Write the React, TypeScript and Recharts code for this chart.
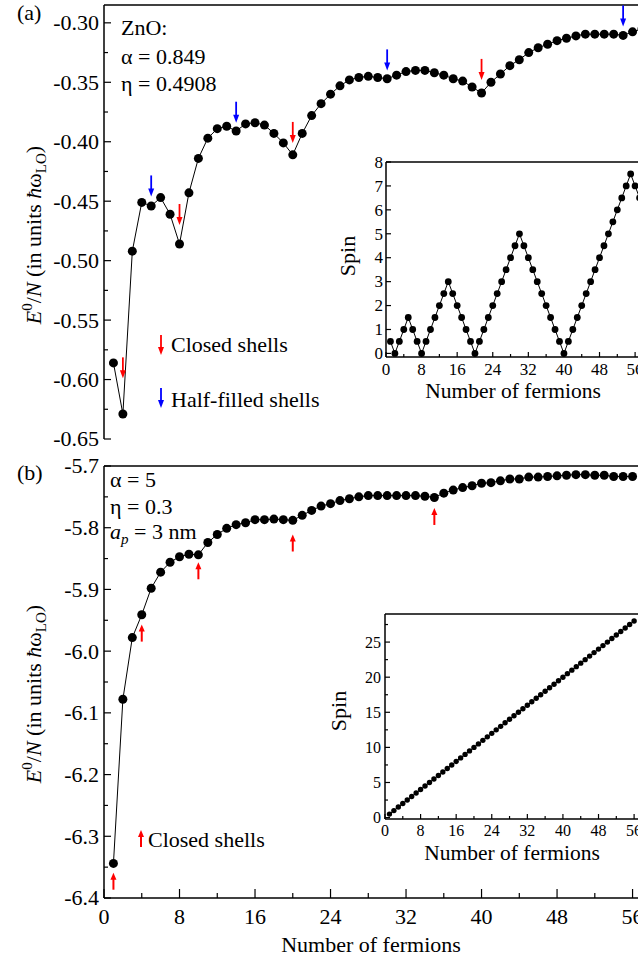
import React from 'react';
import { ComposedChart, Line, Scatter, XAxis, YAxis, ReferenceLine } from 'recharts';

const SERIF = '"Liberation Serif", "Times New Roman", "DejaVu Serif", serif';

// number of fermions N
const fermions = [
  1, 2, 3, 4, 5, 6, 7, 8, 9, 10, 11, 12, 13, 14, 15, 16, 17, 18, 19, 20,
  21, 22, 23, 24, 25, 26, 27, 28, 29, 30, 31, 32, 33, 34, 35, 36, 37, 38, 39, 40,
  41, 42, 43, 44, 45, 46, 47, 48, 49, 50, 51, 52, 53, 54, 55, 56, 57,
];

// (a) ZnO, E0/N
const energyZnO = [
  -0.586, -0.629, -0.492, -0.451, -0.454, -0.447, -0.461, -0.486, -0.443, -0.414,
  -0.397, -0.389, -0.387, -0.391, -0.385, -0.384, -0.386, -0.393, -0.401, -0.411,
  -0.393, -0.378, -0.368, -0.36, -0.353, -0.348, -0.346, -0.345, -0.346, -0.347,
  -0.344, -0.341, -0.34, -0.34, -0.342, -0.344, -0.347, -0.349, -0.354, -0.359,
  -0.35, -0.343, -0.336, -0.331, -0.325, -0.321, -0.318, -0.315, -0.313, -0.311,
  -0.3095, -0.3095, -0.3095, -0.3095, -0.3106, -0.3076, -0.305,
];

// (b) alpha = 5, E0/N
const energyStrong = [
  -6.344, -6.078, -5.978, -5.941, -5.898, -5.872, -5.856, -5.847, -5.843, -5.844,
  -5.824, -5.811, -5.801, -5.795, -5.792, -5.787, -5.787, -5.786, -5.787, -5.788,
  -5.78, -5.772, -5.765, -5.761, -5.756, -5.753, -5.75, -5.748, -5.748, -5.748,
  -5.748, -5.748, -5.748, -5.749, -5.751, -5.744, -5.739, -5.735, -5.732, -5.728,
  -5.727, -5.724, -5.721, -5.721, -5.718, -5.718, -5.717, -5.716, -5.715, -5.714,
  -5.714, -5.715, -5.715, -5.717, -5.717, -5.717,
];

// inset spins
const spinZnO = [
  0.5, 0, 0.5, 1, 1.5, 1, 0.5, 0, 0.5, 1,
  1.5, 2, 2.5, 3, 2.5, 2, 1.5, 1, 0.5, 0,
  0.5, 1, 1.5, 2, 2.5, 3, 3.5, 4, 4.5, 5,
  4.5, 4, 3.5, 3, 2.5, 2, 1.5, 1, 0.5, 0,
  0.5, 1, 1.5, 2, 2.5, 3, 3.5, 4, 4.5, 5,
  5.5, 6, 6.5, 7, 7.5, 7, 6.5,
];
const spinStrong = [
  0.5, 1, 1.5, 2, 2.5, 3, 3.5, 4, 4.5, 5,
  5.5, 6, 6.5, 7, 7.5, 8, 8.5, 9, 9.5, 10,
  10.5, 11, 11.5, 12, 12.5, 13, 13.5, 14, 14.5, 15,
  15.5, 16, 16.5, 17, 17.5, 18, 18.5, 19, 19.5, 20,
  20.5, 21, 21.5, 22, 22.5, 23, 23.5, 24, 24.5, 25,
  25.5, 26, 26.5, 27, 27.5, 28,
];

// shell markers: N and the arrow tip (data units)
const closedShellsA = [2, 8, 20, 40];
const closedTipsA = [-0.599, -0.47, -0.401, -0.348];
const halfShellsA = [5, 14, 30, 55];
const halfTipsA = [-0.446, -0.384, -0.34, -0.303];
const closedShellsB = [1, 4, 10, 20, 35];
const closedTipsB = [-6.359, -5.957, -5.856, -5.811, -5.768];

// ticks
const xMajor = [0, 8, 16, 24, 32, 40, 48, 56];
const xMinor = [4, 12, 20, 28, 36, 44, 52];
const yMajorA = [-0.65, -0.6, -0.55, -0.5, -0.45, -0.4, -0.35, -0.3];
const yMinorA = [-0.625, -0.575, -0.525, -0.475, -0.425, -0.375, -0.325];
const yMajorB = [-6.4, -6.3, -6.2, -6.1, -6.0, -5.9, -5.8, -5.7];
const yMinorB = [-6.35, -6.25, -6.15, -6.05, -5.95, -5.85, -5.75];
const spinTicksA = [0, 1, 2, 3, 4, 5, 6, 7, 8];
const spinMajorB = [0, 5, 10, 15, 20, 25];
const spinMinorB = [2.5, 7.5, 12.5, 17.5, 22.5, 27.5];

const zip = (xs: number[], ys: number[]) => ys.map((v, i) => ({ n: xs[i], v }));
const seriesA = zip(fermions, energyZnO);
const seriesB = zip(fermions, energyStrong);
const spinA = zip(fermions, spinZnO);
const spinB = zip(fermions, spinStrong);
const closedA = zip(closedShellsA, closedTipsA);
const halfA = zip(halfShellsA, halfTipsA);
const closedB = zip(closedShellsB, closedTipsB);

const isIn = (arr: number[], v: number) => arr.some((a) => Math.abs(a - v) < 1e-9);

type TickOpts = {
  major: number[];
  len: number;
  minorLen: number;
  fontSize: number;
  gap: number;
  fmt?: (v: number) => string;
};

const leftTick = (o: TickOpts) => (props: any) => {
  const { x, y, payload } = props;
  const major = isIn(o.major, payload.value);
  return (
    <g>
      <line x1={x} y1={y} x2={x + (major ? o.len : o.minorLen)} y2={y} stroke="#000" strokeWidth={1.2} />
      {major && o.fmt && (
        <text x={x - o.gap} y={y + o.fontSize * 0.34} textAnchor="end" fontSize={o.fontSize} fontFamily={SERIF} fill="#000">
          {o.fmt(payload.value)}
        </text>
      )}
    </g>
  );
};

const bottomTick = (o: TickOpts) => (props: any) => {
  const { x, y, payload } = props;
  const major = isIn(o.major, payload.value);
  return (
    <g>
      <line x1={x} y1={y} x2={x} y2={y - (major ? o.len : o.minorLen)} stroke="#000" strokeWidth={1.2} />
      {major && o.fmt && (
        <text x={x} y={y + o.gap} textAnchor="middle" fontSize={o.fontSize} fontFamily={SERIF} fill="#000">
          {o.fmt(payload.value)}
        </text>
      )}
    </g>
  );
};

// arrow whose tip sits at (cx, cy)
const downArrow = (color: string, len: number) => (p: any) => (
  <g>
    <line x1={p.cx} y1={p.cy - len} x2={p.cx} y2={p.cy - 6} stroke={color} strokeWidth={1.8} />
    <polygon points={`${p.cx - 3},${p.cy - 8} ${p.cx + 3},${p.cy - 8} ${p.cx},${p.cy}`} fill={color} />
  </g>
);
const upArrow = (color: string, len: number) => (p: any) => (
  <g>
    <line x1={p.cx} y1={p.cy + 5} x2={p.cx} y2={p.cy + len} stroke={color} strokeWidth={2} />
    <polygon points={`${p.cx - 3},${p.cy + 7} ${p.cx + 3},${p.cy + 7} ${p.cx},${p.cy}`} fill={color} />
  </g>
);

const axisLine = { stroke: '#000', strokeWidth: 1.5 };
const abs = (top: number): React.CSSProperties => ({ position: 'absolute', left: 0, top });

const App: React.FC = () => {
  return (
    <div style={{ position: 'fixed', left: 0, top: 0, width: 638, height: 963, overflow: 'hidden', background: '#fff' }}>
      {/* (a) ZnO */}
      <div style={abs(0)}>
        <ComposedChart width={642} height={459} margin={{ top: 5, right: 0, bottom: 20, left: 44 }}>
          <XAxis dataKey="n" type="number" domain={[0, 57]} allowDataOverflow height={0}
            ticks={[...xMajor, ...xMinor]} interval={0} tickSize={0} tickMargin={0} tickLine={false}
            axisLine={axisLine} tick={bottomTick({ major: xMajor, len: 9, minorLen: 5, fontSize: 22, gap: 26 })} />
          <YAxis type="number" domain={[-0.65, -0.285]} allowDataOverflow width={60}
            ticks={[...yMajorA, ...yMinorA]} interval={0} tickSize={0} tickMargin={0} tickLine={false}
            axisLine={axisLine}
            tick={leftTick({ major: yMajorA, len: 7, minorLen: 4, fontSize: 22, gap: 5, fmt: (v) => v.toFixed(2) })} />
          <ReferenceLine y={-0.285} stroke="#000" strokeWidth={1.5} />
          <Line data={seriesA} dataKey="v" stroke="#000" strokeWidth={1} isAnimationActive={false}
            dot={{ r: 4.5, fill: '#000', stroke: 'none' }} activeDot={false} />
          <Scatter data={closedA} dataKey="v" shape={downArrow('#ff0000', 21)} isAnimationActive={false} />
          <Scatter data={halfA} dataKey="v" shape={downArrow('#0000ff', 21)} isAnimationActive={false} />
        </ComposedChart>
      </div>

      {/* (a) inset: spin */}
      <div style={abs(0)}>
        <ComposedChart width={644} height={402} margin={{ top: 162, right: 0, bottom: 0, left: 356 }}>
          <XAxis dataKey="n" type="number" domain={[0, 58]} allowDataOverflow height={45}
            ticks={[...xMajor, ...xMinor]} interval={0} tickSize={0} tickMargin={0} tickLine={false}
            axisLine={axisLine}
            tick={bottomTick({ major: xMajor, len: 5, minorLen: 3, fontSize: 17, gap: 18, fmt: (v) => String(v) })} />
          <YAxis type="number" domain={[-0.15, 8]} allowDataOverflow width={30}
            ticks={spinTicksA} interval={0} tickSize={0} tickMargin={0} tickLine={false}
            axisLine={axisLine}
            tick={leftTick({ major: spinTicksA, len: 5, minorLen: 3, fontSize: 17, gap: 3, fmt: (v) => String(v) })} />
          <ReferenceLine y={8} stroke="#000" strokeWidth={1.5} />
          <Line data={spinA} dataKey="v" stroke="#000" strokeWidth={1} isAnimationActive={false}
            dot={{ r: 3.4, fill: '#000', stroke: 'none' }} activeDot={false} />
        </ComposedChart>
      </div>

      {/* (b) alpha = 5 */}
      <div style={abs(440)}>
        <ComposedChart width={642} height={523} margin={{ top: 26, right: 0, bottom: 15, left: 44 }}>
          <XAxis dataKey="n" type="number" domain={[0, 57]} allowDataOverflow height={50}
            ticks={[...xMajor, ...xMinor]} interval={0} tickSize={0} tickMargin={0} tickLine={false}
            axisLine={axisLine}
            tick={bottomTick({ major: xMajor, len: 9, minorLen: 5, fontSize: 22, gap: 26, fmt: (v) => String(v) })} />
          <YAxis type="number" domain={[-6.4, -5.7]} allowDataOverflow width={60}
            ticks={[...yMajorB, ...yMinorB]} interval={0} tickSize={0} tickMargin={0} tickLine={false}
            axisLine={axisLine}
            tick={leftTick({ major: yMajorB, len: 7, minorLen: 4, fontSize: 22, gap: 5, fmt: (v) => v.toFixed(1) })} />
          <ReferenceLine y={-5.7} stroke="#000" strokeWidth={1.5} />
          <Line data={seriesB} dataKey="v" stroke="#000" strokeWidth={1} isAnimationActive={false}
            dot={{ r: 4.5, fill: '#000', stroke: 'none' }} activeDot={false} />
          <Scatter data={closedB} dataKey="v" shape={upArrow('#ff0000', 17)} isAnimationActive={false} />
        </ComposedChart>
      </div>

      {/* (b) inset: spin */}
      <div style={abs(560)}>
        <ComposedChart width={643} height={304} margin={{ top: 54, right: 0, bottom: 0, left: 355 }}>
          <XAxis dataKey="n" type="number" domain={[0, 58]} allowDataOverflow height={45}
            ticks={[...xMajor, ...xMinor]} interval={0} tickSize={0} tickMargin={0} tickLine={false}
            axisLine={axisLine}
            tick={bottomTick({ major: xMajor, len: 5, minorLen: 3, fontSize: 16, gap: 17, fmt: (v) => String(v) })} />
          <YAxis type="number" domain={[-0.2, 29]} allowDataOverflow width={30}
            ticks={[...spinMajorB, ...spinMinorB]} interval={0} tickSize={0} tickMargin={0} tickLine={false}
            axisLine={axisLine}
            tick={leftTick({ major: spinMajorB, len: 5, minorLen: 3, fontSize: 16, gap: 4, fmt: (v) => String(v) })} />
          <ReferenceLine y={29} stroke="#000" strokeWidth={1.5} />
          <Line data={spinB} dataKey="v" stroke="#000" strokeWidth={1} isAnimationActive={false}
            dot={{ r: 2.7, fill: '#000', stroke: 'none' }} activeDot={false} />
        </ComposedChart>
      </div>

      {/* titles and annotations */}
      <svg width={638} height={963} style={{ position: 'absolute', left: 0, top: 0, pointerEvents: 'none' }}
        fontFamily={SERIF} fill="#000">
        <text x={17} y={20} fontSize={22}>(a)</text>
        <text x={17} y={480} fontSize={22}>(b)</text>

        <text x={121} y={35} fontSize={22}>ZnO:</text>
        <text x={121} y={64} fontSize={22}>α = 0.849</text>
        <text x={121} y={91} fontSize={22}>η = 0.4908</text>

        <text x={110} y={487} fontSize={22}>α = 5</text>
        <text x={110} y={514} fontSize={22}>η = 0.3</text>
        <text x={110} y={539} fontSize={22}>
          <tspan fontStyle="italic">a</tspan>
          <tspan dy={5} fontSize={15} fontStyle="italic">p</tspan>
          <tspan dy={-5}> = 3 nm</tspan>
        </text>

        {/* legend (a) */}
        <line x1={161} y1={335} x2={161} y2={349} stroke="#ff0000" strokeWidth={1.8} />
        <polygon points="158,347 164,347 161,355" fill="#ff0000" />
        <text x={171} y={352} fontSize={22}>Closed shells</text>
        <line x1={161} y1={388} x2={161} y2={402} stroke="#0000ff" strokeWidth={1.8} />
        <polygon points="158,400 164,400 161,408" fill="#0000ff" />
        <text x={171} y={407} fontSize={22}>Half-filled shells</text>

        {/* legend (b) */}
        <polygon points="138,837 144,837 141,830" fill="#ff0000" />
        <line x1={141} y1={835} x2={141} y2={847} stroke="#ff0000" strokeWidth={2} />
        <text x={148} y={847} fontSize={22}>Closed shells</text>

        {/* y titles */}
        {[235, 694].map((cy) => (
          <text key={cy} transform={`translate(41,${cy}) rotate(-90)`} textAnchor="middle" fontSize={22}>
            <tspan fontStyle="italic">E</tspan>
            <tspan dy={-9} fontSize={15}>0</tspan>
            <tspan dy={9}>/</tspan>
            <tspan fontStyle="italic">N</tspan>
            <tspan> (in units </tspan>
            <tspan fontStyle="italic">ħ</tspan>
            <tspan>ω</tspan>
            <tspan dy={5} fontSize={15}>LO</tspan>
            <tspan dy={-5}>)</tspan>
          </text>
        ))}

        <text x={371} y={952} textAnchor="middle" fontSize={22}>Number of fermions</text>

        {/* inset titles */}
        <text x={513} y={398} textAnchor="middle" fontSize={21.5}>Number of fermions</text>
        <text transform="translate(355,256) rotate(-90)" textAnchor="middle" fontSize={22}>Spin</text>
        <text x={512} y={860} textAnchor="middle" fontSize={21.5}>Number of fermions</text>
        <text transform="translate(346,711) rotate(-90)" textAnchor="middle" fontSize={22}>Spin</text>
      </svg>
    </div>
  );
};

export default App;
